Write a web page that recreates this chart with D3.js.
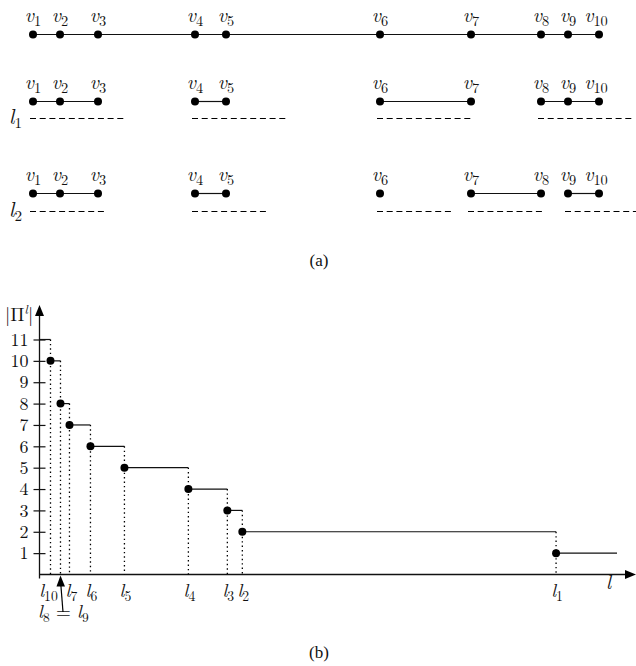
<!DOCTYPE html>
<html>
<head>
<script src="https://d3js.org/d3.v7.min.js"></script>
<style>
  body { margin: 0; background: #fff; }
</style>
</head>
<body>
<div id="chart"></div>
<script>
////////////////////////////////////////////////////////////
/////////////////////////// Data ///////////////////////////
////////////////////////////////////////////////////////////
// (a) vertex positions along the line (arbitrary units)
var vertexNames = ["1","2","3","4","5","6","7","8","9","10"];
var vertexPos   = [0, 27, 65, 162, 193, 347, 438, 508, 535, 566];
// clusters for each threshold (vertex indices)
var rowLabels   = ["1", "2"];
var rowGroups   = [
  [[0,1,2],[3,4],[5,6],[7,8,9]],
  [[0,1,2],[3,4],[5],[6,7],[8,9]]
];
var rowLength   = [97, 75];   // threshold length shown as dashed bar

// (b) step function |Pi^l| vs l
var lLabels  = ["10", "", "7", "6", "5", "4", "3", "2", "1"];
var lPos     = [11, 21, 30, 51, 85, 149, 188, 203, 517];
var counts   = [10, 8, 7, 6, 5, 4, 3, 2, 1];
var startCount = 11;
var lastEnd  = 578;
var yTicks   = [1,2,3,4,5,6,7,8,9,10,11];

////////////////////////////////////////////////////////////
/////////////////////////// SVG ////////////////////////////
////////////////////////////////////////////////////////////
var W = 636, H = 666, ink = "#111";
var FONT = "'Latin Modern Roman'";
var CAP  = "'Liberation Serif'";
var svg = d3.select("#chart").append("svg")
  .attr("width", W).attr("height", H);

// sub/superscripted italic symbol
function mathLabel(sel, base, sub, size, anchor) {
  var t = sel.append("text")
    .attr("text-anchor", anchor || "middle")
    .style("font-family", FONT)
    .style("font-size", size + "px")
    .attr("fill", ink);
  t.append("tspan").style("font-style", "italic").text(base);
  if (sub) t.append("tspan").attr("dy", size * 0.22)
    .style("font-size", (size * 0.72) + "px").text(sub);
  return t;
}

////////////////////////////////////////////////////////////
//////////////////////// Part (a) //////////////////////////
////////////////////////////////////////////////////////////
var xa = d3.scaleLinear().domain([0, 566]).range([33, 599]);
var rowY = [34.5, 101.5, 193.5];

var ga = svg.append("g");

// top row: full line
ga.append("line")
  .attr("x1", xa(vertexPos[0])).attr("x2", xa(vertexPos[9]))
  .attr("y1", rowY[0]).attr("y2", rowY[0])
  .attr("stroke", ink).attr("stroke-width", 1.2);

function drawDotsAndLabels(y) {
  vertexPos.forEach(function(p, i) {
    ga.append("circle").attr("cx", xa(p)).attr("cy", y).attr("r", 4).attr("fill", "#000");
    mathLabel(ga, "v", vertexNames[i], 20)
      .attr("transform", "translate(" + (xa(p) + (i == 9 ? -3 : 0)) + "," + (y - 13) + ")");
  });
}
drawDotsAndLabels(rowY[0]);

rowGroups.forEach(function(groups, r) {
  var y = rowY[r + 1];
  var yd = y + 17 + (r == 1 ? 1 : 0);
  groups.forEach(function(g) {
    var a = vertexPos[g[0]], b = vertexPos[g[g.length - 1]];
    if (g.length > 1) {
      ga.append("line")
        .attr("x1", xa(a)).attr("x2", xa(b))
        .attr("y1", y).attr("y2", y)
        .attr("stroke", ink).attr("stroke-width", 1.2);
    }
    // dashed threshold bar
    ga.append("line")
      .attr("x1", xa(a) - 3).attr("x2", Math.min(xa(a) - 3 + rowLength[r], W + 5))
      .attr("y1", yd).attr("y2", yd)
      .attr("stroke", "#000").attr("stroke-width", 1.1)
      .attr("stroke-dasharray", "6,3.7");
  });
  drawDotsAndLabels(y);
  mathLabel(ga, "l", rowLabels[r], 21, "start")
    .attr("transform", "translate(9," + (yd + 5) + ")");
});

ga.append("text").attr("x", 319).attr("y", 266)
  .attr("text-anchor", "middle").style("font-family", CAP).style("font-size", "17px").attr("fill", ink)
  .text("(a)");

////////////////////////////////////////////////////////////
//////////////////////// Part (b) //////////////////////////
////////////////////////////////////////////////////////////
var x0 = 39.5, y0 = 574.5;
var x = d3.scaleLinear().domain([0, 597]).range([x0, 636]);
var y = d3.scaleLinear().domain([0, 11]).range([y0, 339.5]);

var gb = svg.append("g");

// axes lines + arrows
gb.append("line").attr("x1", x0).attr("x2", x0).attr("y1", y0 + 4).attr("y2", 312)
  .attr("stroke", ink).attr("stroke-width", 1.3);
gb.append("path").attr("d", "M" + x0 + ",305L" + (x0 - 4.5) + ",316L" + (x0 + 4.5) + ",316Z").attr("fill", "#000");
gb.append("line").attr("x1", x0).attr("x2", 628).attr("y1", y0).attr("y2", y0)
  .attr("stroke", ink).attr("stroke-width", 1.3);
gb.append("path").attr("d", "M636," + y0 + "L625," + (y0 - 4.5) + "L625," + (y0 + 4.5) + "Z").attr("fill", "#000");

// y ticks through d3 axis
var yAxis = gb.append("g")
  .attr("transform", "translate(" + x0 + ",0)")
  .call(d3.axisLeft(y).tickValues(yTicks).tickSize(6).tickPadding(10));
yAxis.attr("font-family", null).attr("font-size", null);
yAxis.select(".domain").remove();
yAxis.selectAll(".tick line").attr("x1", -6).attr("x2", 6).attr("stroke", ink).attr("stroke-width", 1.2);
yAxis.selectAll(".tick text")
  .style("font-family", FONT).style("font-size", "18px").attr("fill", ink)
  .attr("x", -11);

// y label |Pi^l|
var yl = gb.append("text").attr("x", 5).attr("y", 321).style("font-family", FONT).style("font-size", "19px").attr("fill", ink);
yl.append("tspan").text("|\u03A0");
yl.append("tspan").attr("dy", -7).style("font-size", "13px").style("font-style", "italic").text("l");
yl.append("tspan").attr("dy", 7).text("|");

// x label l
gb.append("text").attr("x", 606).attr("y", 589).style("font-family", FONT).style("font-size", "20px")
  .style("font-style", "italic").attr("fill", ink).text("l");

// steps
var steps = [{a: 0, b: lPos[0], c: startCount}];
lPos.forEach(function(p, i) {
  steps.push({a: p, b: i < lPos.length - 1 ? lPos[i + 1] : lastEnd, c: counts[i]});
});
gb.selectAll("line.step").data(steps).enter().append("line")
  .attr("class", "step")
  .attr("x1", function(d) { return x(d.a); }).attr("x2", function(d) { return x(d.b); })
  .attr("y1", function(d) { return y(d.c); }).attr("y2", function(d) { return y(d.c); })
  .attr("stroke", ink).attr("stroke-width", 1.2);

// dotted drops
gb.selectAll("line.drop").data(lPos).enter().append("line")
  .attr("class", "drop")
  .attr("x1", function(d) { return x(d); }).attr("x2", function(d) { return x(d); })
  .attr("y1", function(d, i) { return y(i == 0 ? startCount : counts[i - 1]); })
  .attr("y2", y0)
  .attr("stroke", "#000").attr("stroke-width", 1.3)
  .attr("stroke-dasharray", "1.4,3");

// dots
gb.selectAll("circle.pt").data(lPos).enter().append("circle")
  .attr("class", "pt")
  .attr("cx", function(d) { return x(d); })
  .attr("cy", function(d, i) { return y(counts[i]); })
  .attr("r", 4).attr("fill", "#000");

// x labels
lPos.forEach(function(p, i) {
  if (!lLabels[i]) return;
  mathLabel(gb, "l", lLabels[i], 19)
    .attr("transform", "translate(" + (x(p) + (i == 0 ? -2 : (i == 2 ? 2 : 1))) + ",597)");
});

// l8 = l9 annotation
var ann = gb.append("text").attr("x", 38).attr("y", 618).style("font-family", FONT).style("font-size", "19px").attr("fill", ink);
ann.append("tspan").style("font-style", "italic").text("l");
ann.append("tspan").attr("dy", 4).style("font-size", "13.5px").text("8");
ann.append("tspan").attr("dy", -4).text(" = ");
ann.append("tspan").style("font-style", "italic").text("l");
ann.append("tspan").attr("dy", 4).style("font-size", "13.5px").text("9");
gb.append("line").attr("x1", 63).attr("y1", 612).attr("x2", x(lPos[1]) + 0.3).attr("y2", 584)
  .attr("stroke", "#000").attr("stroke-width", 1.2);
gb.append("path")
  .attr("d", "M" + x(lPos[1]) + "," + (y0 + 1) + "L" + (x(lPos[1]) - 4) + "," + (y0 + 12) + "L" + (x(lPos[1]) + 4.5) + "," + (y0 + 12) + "Z")
  .attr("fill", "#000");

gb.append("text").attr("x", 319).attr("y", 658)
  .attr("text-anchor", "middle").style("font-family", CAP).style("font-size", "17px").attr("fill", ink)
  .text("(b)");
</script>
</body>
</html>
